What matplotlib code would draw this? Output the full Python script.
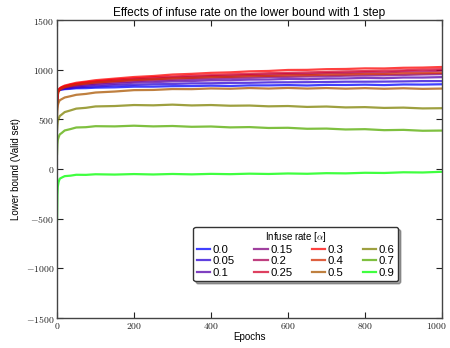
import matplotlib
matplotlib.use("Agg")
import matplotlib.pyplot as plt
import matplotlib.transforms as mtransforms
from matplotlib.ticker import FuncFormatter, MultipleLocator

plt.rcParams['font.family'] = ['Liberation Sans', 'DejaVu Sans']
plt.rcParams['mathtext.fontset'] = 'cm'

epochs = [0, 1, 2, 4, 7, 12, 20, 35, 50, 75, 100, 150, 200, 250, 300, 350,
          400, 450, 500, 550, 600, 650, 700, 750, 800, 850, 900, 950, 1000]

rates = ['0.0', '0.05', '0.1', '0.15', '0.2', '0.25', '0.3', '0.4', '0.5', '0.6', '0.7', '0.9']
# position of each rate on the full 0.0 ... 0.9 grid (0.8 not shown) for colouring
color_pos = [0, 1, 2, 3, 4, 5, 6, 7, 8, 9, 10, 12]

r_00 = [690, 760, 781, 789, 796, 799, 804, 807, 813, 814, 819, 822, 829, 829, 834, 835,
        839, 836, 842, 842, 845, 841, 847, 846, 849, 845, 851, 850, 853]
r_05 = [680, 755, 777, 791, 796, 804, 807, 816, 820, 828, 831, 841, 847, 853, 856, 862,
        863, 867, 868, 872, 873, 874, 876, 879, 879, 880, 882, 885, 885]
r_10 = [670, 750, 776, 789, 801, 807, 816, 823, 833, 839, 848, 857, 869, 874, 882, 886,
        893, 894, 900, 901, 907, 904, 911, 912, 917, 914, 921, 921, 925]
r_15 = [660, 745, 772, 791, 802, 814, 821, 834, 841, 853, 859, 874, 883, 893, 898, 907,
        911, 917, 920, 926, 928, 931, 934, 939, 941, 943, 947, 952, 955]
r_20 = [650, 740, 773, 791, 807, 817, 830, 841, 853, 863, 875, 888, 902, 910, 920, 926,
        935, 938, 946, 949, 956, 956, 964, 966, 973, 972, 981, 983, 990]
r_25 = [640, 735, 771, 795, 808, 823, 833, 850, 859, 874, 883, 900, 911, 924, 930, 940,
        945, 953, 957, 965, 968, 973, 977, 983, 986, 990, 994, 1001, 1005]
r_30 = [630, 730, 773, 795, 813, 825, 840, 854, 868, 880, 894, 910, 926, 936, 951, 958,
        968, 973, 983, 987, 997, 998, 1005, 1007, 1013, 1012, 1019, 1021, 1027]
r_40 = [600, 700, 746, 774, 796, 809, 824, 837, 850, 860, 871, 883, 896, 903, 912, 917,
        925, 928, 935, 937, 943, 944, 950, 951, 957, 957, 963, 964, 968]
r_50 = [520, 600, 642, 668, 692, 703, 720, 733, 747, 756, 770, 780, 794, 796, 805, 804,
        811, 808, 815, 810, 816, 810, 815, 809, 814, 808, 813, 807, 810]
r_60 = [380, 440, 477, 503, 533, 548, 573, 590, 608, 616, 630, 634, 644, 641, 648, 640,
        644, 637, 639, 631, 634, 625, 629, 620, 623, 615, 618, 610, 612]
r_70 = [150, 250, 292, 318, 348, 362, 388, 402, 418, 421, 431, 429, 436, 429, 433, 425,
        428, 419, 422, 413, 415, 405, 407, 398, 401, 391, 394, 385, 387]
r_90 = [-520, -260, -178, -132, -98, -87, -72, -67, -58, -59, -53, -56, -51, -55, -50, -54,
        -49, -52, -47, -50, -45, -48, -42, -44, -38, -40, -33, -35, -28]

series = [r_00, r_05, r_10, r_15, r_20, r_25, r_30, r_40, r_50, r_60, r_70, r_90]

fig = plt.figure(figsize=(4.5, 3.48), dpi=100)
ax = fig.add_axes([0.1267, 0.0862, 0.8553, 0.8563])

for lab, vals, cp in zip(rates, series, color_pos):
    ax.plot(epochs, vals, color=plt.cm.brg(cp / 12), lw=1.6, alpha=0.75, label=lab)

ax.set_xlim(0, 1000)
ax.set_ylim(-1500, 1500)
ax.xaxis.set_major_locator(MultipleLocator(200))
ax.yaxis.set_major_locator(MultipleLocator(500))
fmt = FuncFormatter(lambda v, p: '$%d$' % int(round(v)))
ax.xaxis.set_major_formatter(fmt)
ax.yaxis.set_major_formatter(fmt)
ax.tick_params(direction='in', top=True, right=True, length=4, width=0.8,
               labelsize=7, pad=2, colors='#222222')
for s in ax.spines.values():
    s.set_color('#444444')
    s.set_linewidth(1.0)

ax.set_title('Effects of infuse rate on the lower bound with 1 step', fontsize=8.6, pad=3)
ax.set_xlabel('Epochs', fontsize=7, labelpad=1)
ax.set_ylabel('Lower bound (Valid set)', fontsize=7, labelpad=3)

leg = ax.legend(ncol=4, title='Infuse rate [$\\alpha$]', fontsize=8.2, title_fontsize=7,
                loc='lower center', bbox_to_anchor=(0.62, 0.105), fancybox=True, shadow=True,
                handlelength=1.2, handletextpad=0.2, columnspacing=1.7, labelspacing=0.1,
                borderpad=0.3, framealpha=1)
leg.get_frame().set_edgecolor('#333333')
leg.get_frame().set_linewidth(1.0)

# keep the last x tick label inside the canvas (shift it a few pixels left)
fig.canvas.draw()
shift = mtransforms.ScaledTranslation(-5 / 100, 0, fig.dpi_scale_trans)
for tick in ax.xaxis.get_major_ticks():
    if tick.label1.get_text() == '$1000$':
        tick.label1.set_transform(tick.label1.get_transform() + shift)

fig.savefig('out.png', dpi=100)
